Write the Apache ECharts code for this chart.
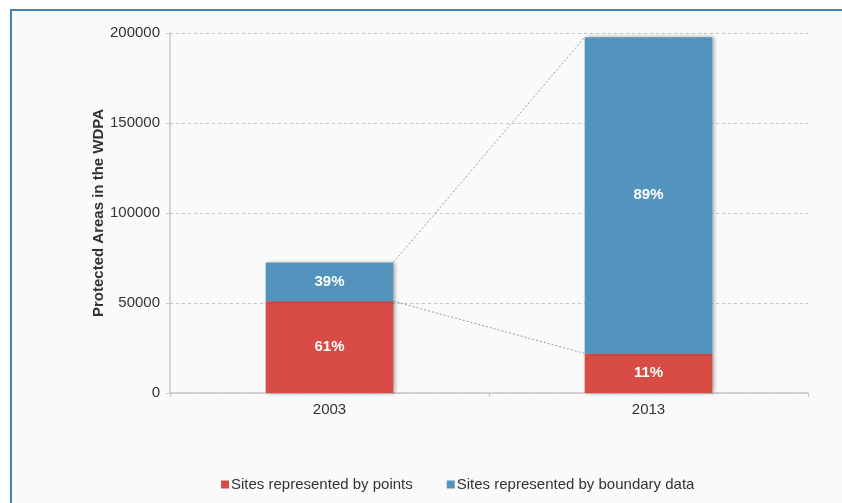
<!DOCTYPE html>
<html>
<head>
<meta charset="utf-8">
<script src="https://cdn.jsdelivr.net/npm/echarts@6/dist/echarts.min.js"></script>
<style>
  html, body { margin: 0; padding: 0; width: 842px; height: 503px; overflow: hidden; background: #ffffff; }
  #frame { position: absolute; left: 10px; top: 9px; width: 900px; height: 600px; border: 2px solid #4a7fb0; background: #fafafa; }
  #chart { position: absolute; left: 0; top: 0; width: 842px; height: 503px; }
</style>
</head>
<body>
<div id="frame"></div>
<div id="chart"></div>
<script>
// Data
const categories = ['2003', '2013'];
const pointsValues = [51000, 22000];
const boundaryValues = [21500, 175700];
const pointsLabels = ['61%', '11%'];
const boundaryLabels = ['39%', '89%'];
const seriesNames = ['Sites represented by points', 'Sites represented by boundary data'];
const yTicks = { min: 0, max: 200000, interval: 50000 };

const totals = pointsValues.map((v, i) => v + boundaryValues[i]);
const barWidthRatio = 0.4;

const chart = echarts.init(document.getElementById('chart'));
const font = '"Liberation Sans", Arial, Helvetica, sans-serif';

const connectorData = [
  [0, pointsValues[0], pointsValues[1]],
  [0, totals[0], totals[1]]
];

chart.setOption({
  backgroundColor: 'transparent',
  animation: false,
  textStyle: { fontFamily: font },
  grid: { left: 170, right: 34, top: 33, bottom: 110 },
  legend: {
    left: 216, top: 472,
    icon: 'rect', itemWidth: 8, itemHeight: 8, itemGap: 34,
    textStyle: { fontSize: 15, color: '#333', fontFamily: font, padding: [0, 0, 0, -3] },
    data: seriesNames
  },
  xAxis: {
    type: 'category',
    data: categories,
    axisLine: { lineStyle: { color: '#c8c8c8', width: 1.5 } },
    axisTick: { show: true, interval: 0, length: 4, lineStyle: { color: '#c8c8c8' } },
    axisLabel: { fontSize: 15, color: '#333', margin: 9, fontFamily: font }
  },
  yAxis: {
    type: 'value',
    min: yTicks.min, max: yTicks.max, interval: yTicks.interval,
    name: 'Protected Areas in the WDPA',
    nameLocation: 'middle',
    nameGap: 64,
    nameMoveOverlap: false,
    nameTextStyle: { fontSize: 15, fontWeight: 'bold', color: '#333', fontFamily: font },
    axisLine: { show: true, lineStyle: { color: '#c8c8c8', width: 1.5 } },
    axisTick: { show: true, length: 4, lineStyle: { color: '#c8c8c8' } },
    axisLabel: { fontSize: 15, color: '#333', margin: 10, fontFamily: font, formatter: v => String(v) },
    splitLine: { show: true, lineStyle: { color: '#c4c4c4', type: [3, 3], width: 1 } }
  },
  series: [
    {
      name: seriesNames[0],
      type: 'bar',
      stack: 'total',
      barWidth: (barWidthRatio * 100) + '%',
      data: pointsValues,
      itemStyle: { color: '#d84c45', shadowColor: 'rgba(0,0,0,0.35)', shadowBlur: 4, shadowOffsetX: 2 },
      label: {
        show: true, position: 'inside', color: '#fff', fontWeight: 'bold', fontSize: 15, fontFamily: font,
        formatter: p => pointsLabels[p.dataIndex]
      },
      z: 3
    },
    {
      name: seriesNames[1],
      type: 'bar',
      stack: 'total',
      barWidth: (barWidthRatio * 100) + '%',
      data: boundaryValues,
      itemStyle: { color: '#5294be', shadowColor: 'rgba(0,0,0,0.35)', shadowBlur: 4, shadowOffsetX: 2 },
      label: {
        show: true, position: 'inside', color: '#fff', fontWeight: 'bold', fontSize: 15, fontFamily: font,
        formatter: p => boundaryLabels[p.dataIndex]
      },
      z: 3
    },
    {
      type: 'custom',
      silent: true,
      z: 2,
      encode: { x: 0, y: 1 },
      data: connectorData,
      renderItem: function (params, api) {
        const p1 = api.coord([0, api.value(1)]);
        const p2 = api.coord([1, api.value(2)]);
        const bw = api.size([1, 0])[0] * barWidthRatio;
        return {
          type: 'line',
          shape: { x1: p1[0] + bw / 2, y1: p1[1], x2: p2[0] - bw / 2, y2: p2[1] },
          style: { stroke: '#9a9a9a', lineWidth: 1, lineDash: [2, 2] }
        };
      }
    }
  ]
});
</script>
</body>
</html>
